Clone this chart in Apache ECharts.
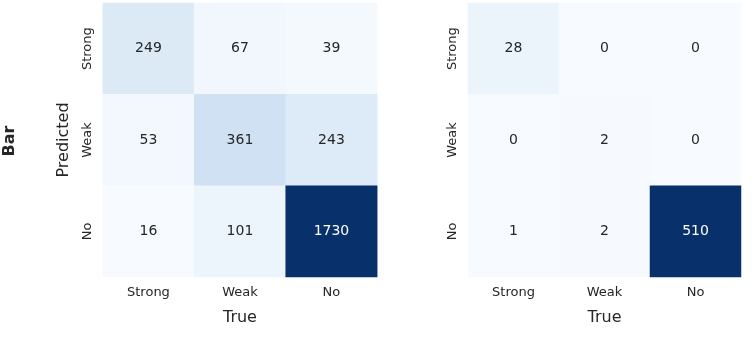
<!DOCTYPE html>
<html>
<head>
<meta charset="utf-8">
<script src="https://cdn.jsdelivr.net/npm/echarts@6/dist/echarts.min.js"></script>
<style>
  html, body { margin: 0; padding: 0; background: #fff; }
  #chart { width: 756px; height: 360px; }
</style>
</head>
<body>
<div id="chart"></div>
<script>
// categories
var trueLabels = ['Strong', 'Weak', 'No'];
var predLabels = ['Strong', 'Weak', 'No'];
// rows = predicted, cols = true
var leftMatrix = [
  [249, 67, 39],
  [53, 361, 243],
  [16, 101, 1730]
];
var rightMatrix = [
  [28, 0, 0],
  [0, 2, 0],
  [1, 2, 510]
];

var blues = ['#f7fbff', '#deebf7', '#c6dbef', '#9ecae1', '#6baed6', '#4292c6', '#2171b5', '#08519c', '#08306b'];
var font = 'DejaVu Sans';
var txt = '#262626';

function toData(m) {
  var max = Math.max.apply(null, m.map(function (r) { return Math.max.apply(null, r); }));
  var out = [];
  m.forEach(function (row, i) {
    row.forEach(function (v, j) {
      out.push({
        value: [j, i, v],
        label: { color: v / max > 0.6 ? '#ffffff' : txt }
      });
    });
  });
  return { data: out, max: max };
}

var L = toData(leftMatrix);
var R = toData(rightMatrix);

function xAx(idx) {
  return {
    type: 'category', gridIndex: idx, data: trueLabels,
    axisLine: { show: false }, axisTick: { show: false }, splitLine: { show: false },
    axisLabel: { color: txt, fontFamily: font, fontSize: 13, margin: 9 },
    name: 'True', nameLocation: 'middle', nameGap: 33,
    nameTextStyle: { color: txt, fontFamily: font, fontSize: 16 }
  };
}
function yAx(idx, withName) {
  return {
    type: 'category', gridIndex: idx, data: predLabels, inverse: true,
    axisLine: { show: false }, axisTick: { show: false }, splitLine: { show: false },
    axisLabel: { color: txt, fontFamily: font, fontSize: 13, rotate: 90, margin: 9 },
    name: withName ? 'Predicted' : '', nameLocation: 'middle', nameGap: 31,
    nameTextStyle: { color: txt, fontFamily: font, fontSize: 16 }
  };
}

var chart = echarts.init(document.getElementById('chart'));
chart.setOption({
  backgroundColor: '#ffffff',
  animation: false,
  grid: [
    { left: 102.7, top: 3, width: 274.5, height: 274 },
    { left: 468, top: 3, width: 273, height: 274 }
  ],
  xAxis: [xAx(0), xAx(1)],
  yAxis: [yAx(0, true), yAx(1, false)],
  visualMap: [
    { show: false, seriesIndex: 0, min: 16, max: L.max, inRange: { color: blues } },
    { show: false, seriesIndex: 1, min: 0, max: R.max, inRange: { color: blues } }
  ],
  graphic: [{
    type: 'text', x: 10, y: 141, rotation: Math.PI / 2,
    style: { text: 'Bar', font: 'bold 16px "DejaVu Sans"', fill: txt, textAlign: 'center', textVerticalAlign: 'middle' }
  }],
  series: [
    {
      type: 'heatmap', xAxisIndex: 0, yAxisIndex: 0, data: L.data,
      label: { show: true, fontFamily: font, fontSize: 14 },
      itemStyle: { borderWidth: 0 }
    },
    {
      type: 'heatmap', xAxisIndex: 1, yAxisIndex: 1, data: R.data,
      label: { show: true, fontFamily: font, fontSize: 14 },
      itemStyle: { borderWidth: 0 }
    }
  ]
});
</script>
</body>
</html>
